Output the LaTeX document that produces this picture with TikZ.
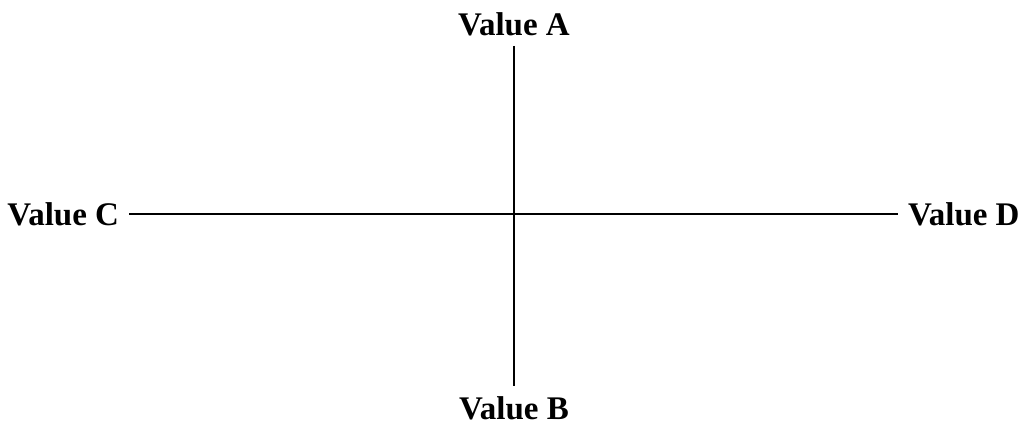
\documentclass[tikz,border=0pt]{standalone}
\usepackage{fontspec}
\setmainfont{Liberation Serif}
\usepackage{tikz}

\tikzset{
  valuelabel/.style={font=\fontsize{33}{39}\selectfont\bfseries, inner sep=0pt, outer sep=10pt, text depth=0pt},
  axisline/.style={line width=2pt}
}

\begin{document}
\begin{tikzpicture}[x=1pt,y=-1pt]

\useasboundingbox (0,0) rectangle (1021,428);

\node[valuelabel, anchor=base] (valA) at (514,36) {Value A};
\node[valuelabel, anchor=base] (valB) at (514,419) {Value B};
\node[valuelabel, anchor=base east] (valC) at (129,225) {Value C};
\node[valuelabel, anchor=base west] (valD) at (898,225) {Value D};

\draw[axisline] (valC.east) -- (valD.west);
\draw[axisline] (valA.south) -- (valB.north);

\end{tikzpicture}
\end{document}
